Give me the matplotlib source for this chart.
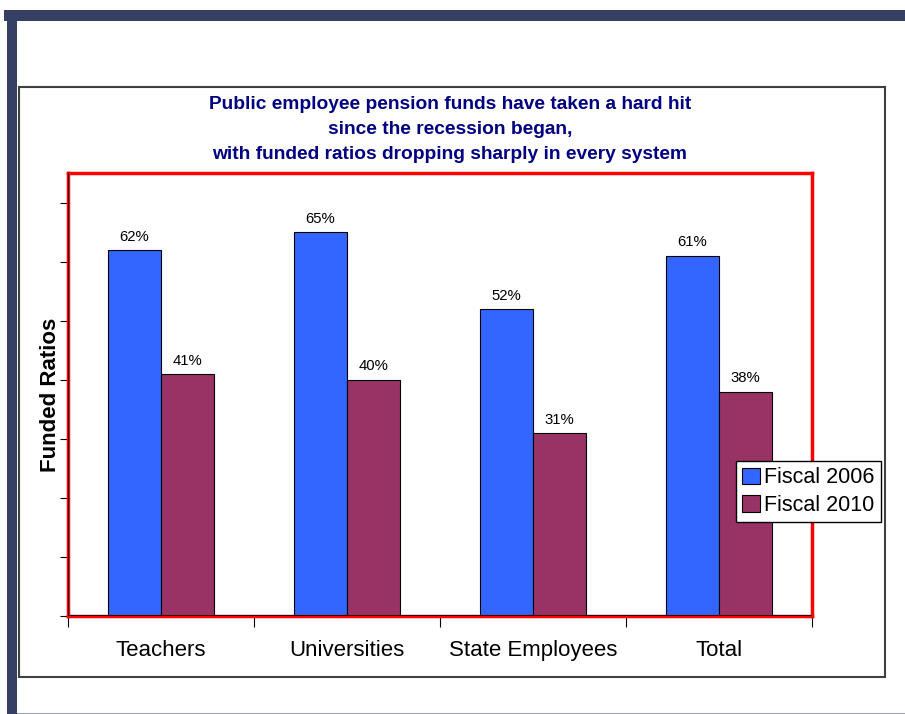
import matplotlib

matplotlib.use("Agg")
import matplotlib.pyplot as plt
from matplotlib.patches import Rectangle

categories = ["Teachers", "Universities", "State Employees", "Total"]
fiscal_2006 = [62, 65, 52, 61]
fiscal_2010 = [41, 40, 31, 38]
series_names = ["Fiscal 2006", "Fiscal 2010"]
title = ("Public employee pension funds have taken a hard hit\n"
         "since the recession began,\n"
         "with funded ratios dropping sharply in every system")

plt.rcParams["font.family"] = ["Liberation Sans", "DejaVu Sans"]

W, H = 905, 714
fig = plt.figure(figsize=(W / 100, H / 100), dpi=100)


def fx(px):
    return px / W


def fy(py):
    return 1 - py / H


def frame_rect(x0, y0, w, h, **kw):
    fig.patches.append(Rectangle((x0, y0), w, h, transform=fig.transFigure,
                                 zorder=-1, **kw))


# slide frame: navy bands and chart box
frame_rect(fx(4), fy(21), fx(901), 11 / H, facecolor="#363f64", edgecolor="none")
frame_rect(fx(7), 0, fx(10), fy(21), facecolor="#363f64", edgecolor="none")
frame_rect(fx(17), fy(714), fx(888), 1.5 / H, facecolor="#a0a0b4", edgecolor="none")
frame_rect(fx(19), fy(677), fx(885 - 19), (677 - 87) / H, facecolor="white",
           edgecolor="#404040", linewidth=1.5)

ax = fig.add_axes([fx(68), fy(616), fx(812 - 68), (616 - 173) / H])
ax.set_facecolor("white")

x = range(len(categories))
w = 0.285
b1 = ax.bar([i - w / 2 for i in x], fiscal_2006, width=w, color="#3366ff",
            edgecolor="black", linewidth=0.8, label=series_names[0], zorder=2)
b2 = ax.bar([i + w / 2 for i in x], fiscal_2010, width=w, color="#993366",
            edgecolor="black", linewidth=0.8, label=series_names[1], zorder=2)

for bars, vals in ((b1, fiscal_2006), (b2, fiscal_2010)):
    for rect, v in zip(bars, vals):
        ax.annotate(f"{v}%", (rect.get_x() + rect.get_width() / 2, v),
                    xytext=(0, 4.5), textcoords="offset points",
                    ha="center", va="bottom", fontsize=10.7)

ax.set_xlim(-0.5, 3.5)
ax.set_ylim(0, 75)
ax.set_yticks(range(0, 80, 10))
ax.set_yticklabels([])
ax.tick_params(axis="y", length=6, width=0.8, color="black", direction="out")
ax.set_xticks(list(x))
ax.set_xticklabels(categories, fontsize=16)
ax.tick_params(axis="x", length=0, pad=17)
ax.set_xticks([-0.5, 0.5, 1.5, 2.5, 3.5], minor=True)
ax.tick_params(axis="x", which="minor", length=8, width=0.8, color="black")

for s in ax.spines.values():
    s.set_color("red")
    s.set_linewidth(2.5)
    s.set_zorder(3)
ax.axvline(-0.5, color="black", linewidth=1.2, zorder=4)
ax.axhline(0, color="black", linewidth=1.2, zorder=4)

fig.text(fx(50), fy(395), "Funded Ratios", rotation=90, ha="center", va="center",
         fontsize=16, fontweight="bold")

fig.text(fx(450), fy(96), title, ha="center", va="top", fontsize=13.8,
         fontweight="bold", color="#000080", linespacing=1.6)

leg = ax.legend(loc="upper left", bbox_to_anchor=(fx(736), fy(461)),
                bbox_transform=fig.transFigure, borderaxespad=0, fontsize=15.5,
                frameon=True, fancybox=False, edgecolor="black", framealpha=1,
                handlelength=0.8, handleheight=0.8, handletextpad=0.2,
                borderpad=0.3, labelspacing=0.3)
leg.get_frame().set_linewidth(1.0)
leg.set_zorder(5)

fig.savefig("out.png", dpi=100)
